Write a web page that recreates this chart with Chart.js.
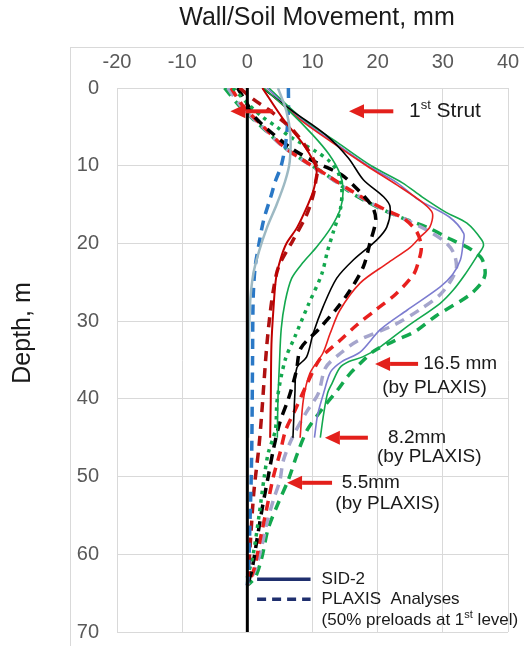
<!DOCTYPE html>
<html>
<head>
<meta charset="utf-8">
<script src="https://cdn.jsdelivr.net/npm/chart.js@4.4.1/dist/chart.umd.min.js"></script>
<style>
  html, body { margin: 0; padding: 0; background: #fff; }
  #wrap { position: relative; width: 524px; height: 646px; }
</style>
</head>
<body>
<div id="wrap"><canvas id="wallChart" width="524" height="646"></canvas></div>
<script>
// axes
const moveTicks = [-20, -10, 0, 10, 20, 30, 40];
const depthTicks = [0, 10, 20, 30, 40, 50, 60, 70];

// zero reference line
const zeroDepth = [0, 70];
const zeroMm = [0, 0];

// SID-2 measured, depth (m) / movement (mm)
const sid1Depth = [0, 3, 6, 9.5, 12, 15, 18, 21, 24, 28, 35, 45];
const sid1Mm = [4.7, 6, 6.6, 6.5, 5.8, 4.5, 3, 1.8, 0.9, 0.4, 0.2, 0.1];

const sid2Depth = [0, 4, 7.5, 10.5, 13, 15, 18, 20, 22, 24.5, 28.5, 33, 40, 45];
const sid2Mm = [2.3, 5.5, 8.8, 10.6, 10.2, 9.3, 7.6, 6, 5.1, 4.4, 4, 3.7, 3.6, 3.5];

const sid3Depth = [0, 3, 6, 8.5, 11, 13, 15.5, 18, 20.5, 22.5, 24.5, 27.5, 31, 36, 40, 45];
const sid3Mm = [2.5, 6.5, 10, 12.5, 14.2, 14.7, 14.3, 12.8, 10.6, 8.5, 6.8, 5.8, 5.2, 4.9, 4.7, 4.6];

const sid4Depth = [0, 3, 6, 9, 11.8, 14, 15.3, 17.9, 19.6, 22.1, 24.5, 28.2, 31.6, 34.6, 36, 39.3, 45];
const sid4Mm = [2.3, 7, 12, 15.5, 17.8, 20.9, 21.9, 21.4, 19.8, 16.3, 13.7, 11.6, 10.1, 9.1, 7.6, 7.3, 7];

const sid5Depth = [0, 4, 7, 10, 12.5, 14.8, 16.1, 17.9, 19.2, 20.5, 22.6, 25.1, 28.6, 31.6, 34.1, 36.7, 40.1, 45];
const sid5Mm = [2.5, 8, 13, 18.3, 23, 27, 28.4, 28, 26.5, 25, 21.4, 17.3, 14.2, 12.7, 11.6, 9.6, 8.6, 8.1];

const sid6Depth = [0, 4, 7, 10, 12.2, 14.4, 16.6, 18.7, 20, 22.1, 24, 25.6, 28.6, 31.1, 34, 35.2, 36.5, 39, 42, 45];
const sid6Mm = [3, 8.2, 13.3, 18.5, 23, 26.3, 31, 33.2, 33.1, 32.7, 31.5, 29.6, 24.5, 20.4, 17.3, 14.5, 12.8, 11.8, 10.8, 10.3];

const sid7Depth = [0, 4, 7, 10, 12.2, 14, 16, 17.4, 19.6, 20.4, 21.7, 24, 26, 27.7, 30.7, 33.3, 34.6, 35.2, 36, 38, 39.3, 42, 45];
const sid7Mm = [3.3, 8.5, 13.8, 19, 23.8, 26.8, 30.5, 33.7, 36, 36.2, 35.2, 33.4, 31.6, 29.6, 24.5, 20.4, 17.7, 15.6, 14.2, 13, 12.3, 11.7, 11.2];

// PLAXIS analyses
const fem1Depth = [0, 3, 7, 10, 12, 14, 17, 20, 23, 27, 35, 45, 50, 56, 62, 64];
const fem1Mm = [6.3, 6.3, 5.9, 5.2, 4.3, 3.6, 2.5, 1.8, 1.2, 0.9, 0.8, 0.7, 0.6, 0.4, 0.2, 0];

const fem2Depth = [0, 1.5, 2.8, 4.3, 5.7, 7.7, 10.3, 12, 13.8, 16.3, 19.6, 23, 26, 29, 33, 38.5, 42, 46, 52, 58, 62, 64];
const fem2Mm = [-1.2, 1, 3.3, 5.5, 7.3, 9.1, 10.7, 10.5, 10.1, 9.1, 7, 4.8, 4, 3.5, 3, 2.5, 2.2, 1.8, 1, 0.5, 0.2, 0];

const fem3Depth = [0, 2.2, 3.7, 5, 6.5, 8.2, 9.5, 11, 13, 15.5, 18.5, 21, 24, 28, 32, 35, 40, 44, 47, 50, 55, 60, 63];
const fem3Mm = [-2.2, 0.3, 2.3, 4.5, 7, 10.6, 12.7, 14, 14.5, 14.3, 13.2, 12.3, 11.4, 9.3, 7.3, 5.8, 4.6, 4.3, 3.2, 2.6, 1.8, 0.9, 0];

const fem4Depth = [0, 2.8, 3.8, 5.6, 7.9, 9.6, 11.2, 13.3, 15.3, 17, 20, 23, 26, 28.5, 31, 33.5, 36.5, 40, 43, 46.5, 50, 54, 58, 62, 64];
const fem4Mm = [-1.5, 0.5, 1.2, 3.5, 7, 10.6, 14.5, 17.2, 19.2, 19.7, 18.8, 17.8, 15.8, 13.6, 11, 8.2, 7.5, 6.3, 5, 4, 3.2, 2.3, 1.5, 0.7, 0];

const fem5Depth = [0, 2.5, 5, 7.5, 9.3, 11.2, 13, 14.5, 15.8, 16.8, 18.5, 20.5, 22.5, 24, 26.5, 28.5, 30.5, 32.5, 34.8, 38, 41.5, 44, 47, 50, 54, 58, 62, 64];
const fem5Mm = [-2.5, -0.5, 2.5, 5.5, 8.6, 12.2, 15.5, 18.5, 21.5, 24, 26, 26.7, 26.2, 25.5, 22.8, 19.8, 16.8, 14.2, 11.2, 9.2, 7.3, 5.9, 5, 4, 3, 2, 1, 0];

const fem6Depth = [0, 2.5, 5, 7.5, 9.3, 11.2, 13, 14.5, 15.8, 17, 18.5, 20, 21.5, 23.5, 26.4, 28.5, 30.5, 32.5, 34, 36, 39.3, 41.8, 45, 48, 50.5, 53, 56, 59, 62, 64];
const fem6Mm = [-3, -0.8, 2.3, 5.4, 8.5, 12, 15.3, 18.3, 21.3, 24.5, 28, 30.6, 31.8, 32, 29.8, 26.5, 22.5, 17, 14.5, 12, 10.9, 9, 6.9, 5.5, 5, 4, 3, 2.2, 1.2, 0];

const fem7Depth = [0, 2.5, 5, 7.5, 9.3, 11.2, 13.4, 15.3, 16.8, 18, 19.3, 20.8, 22, 23.8, 25, 26.7, 29.3, 31.3, 32.6, 33.8, 35.3, 37, 38.7, 41.4, 44, 47, 50.4, 53.5, 56.7, 60.5, 63, 64];
const fem7Mm = [-3.5, -1, 2.2, 5.5, 8.6, 12.2, 15.8, 19.9, 24, 27.8, 30.8, 34.4, 36, 36.5, 36, 34, 29, 25.8, 22.4, 19.5, 17.5, 15.5, 14, 11.4, 9.2, 7.7, 6.3, 4.7, 3.2, 2.2, 1.2, 0];

function pts(depth, mm) {
  return depth.map((d, i) => ({ x: mm[i], y: d }));
}

var dash = [10, 7];
var dots = [3.5, 5];

function line(data, color, width, dashPattern) {
  return {
    data: data,
    showLine: true,
    borderColor: color,
    borderWidth: width,
    borderDash: dashPattern || [],
    pointRadius: 0,
    pointHoverRadius: 0,
    tension: 0.3,
    fill: false
  };
}

var datasets = [
  line(pts(zeroDepth, zeroMm), "#000000", 3),
  line(pts(sid1Depth, sid1Mm), "#9db9c3", 2.5),
  line(pts(sid2Depth, sid2Mm), "#c00000", 2),
  line(pts(sid3Depth, sid3Mm), "#13a84e", 1.6),
  line(pts(sid4Depth, sid4Mm), "#000000", 1.6),
  line(pts(sid5Depth, sid5Mm), "#e8201e", 1.6),
  line(pts(sid6Depth, sid6Mm), "#7c7cd0", 1.6),
  line(pts(sid7Depth, sid7Mm), "#13a84e", 1.6),
  line(pts(fem1Depth, fem1Mm), "#2a78c6", 3.5, dash),
  line(pts(fem2Depth, fem2Mm), "#b01010", 3.5, dash),
  line(pts(fem3Depth, fem3Mm), "#13a84e", 3.5, dots),
  line(pts(fem4Depth, fem4Mm), "#000000", 3.5, dash),
  line(pts(fem5Depth, fem5Mm), "#e8201e", 3.5, dash),
  line(pts(fem6Depth, fem6Mm), "#a5a5cc", 3.5, dash),
  line(pts(fem7Depth, fem7Mm), "#13a84e", 3.5, dash)
];

// annotations, in data units (mm, m)
var arrows = [
  { from: [3.9, 3], to: [-2.6, 3] },
  { from: [22.4, 3], to: [15.6, 3] },
  { from: [26.2, 35.5], to: [19.6, 35.5] },
  { from: [18.5, 45], to: [11.9, 45] },
  { from: [13, 50.8], to: [6.1, 50.8] }
];
var notes = [
  { x: 24.8, y: 3, size: 21, parts: [["1", 0], ["st", 1], [" Strut", 0]] },
  { x: 27, y: 35.5, size: 19, parts: [["16.5 mm", 0]] },
  { x: 20.7, y: 38.6, size: 19, parts: [["(by PLAXIS)", 0]] },
  { x: 21.6, y: 45, size: 19, parts: [["8.2mm", 0]] },
  { x: 19.9, y: 47.5, size: 19, parts: [["(by PLAXIS)", 0]] },
  { x: 14.5, y: 50.8, size: 19, parts: [["5.5mm", 0]] },
  { x: 13.5, y: 53.5, size: 19, parts: [["(by PLAXIS)", 0]] },
  { x: 11.4, y: 63.2, size: 17, parts: [["SID-2", 0]] },
  { x: 11.4, y: 65.8, size: 17, parts: [["PLAXIS  Analyses", 0]] },
  { x: 11.4, y: 68.5, size: 17, parts: [["(50% preloads at 1", 0], ["st", 1], [" level)", 0]] }
];

var FONT = "'Liberation Sans', Arial, sans-serif";

function drawArrow(ctx, x1, y1, x2, y2) {
  var ang = Math.atan2(y2 - y1, x2 - x1);
  var hl = 15, hw = 7;
  var bx = x2 - hl * Math.cos(ang), by = y2 - hl * Math.sin(ang);
  ctx.strokeStyle = "#e3201b";
  ctx.fillStyle = "#e3201b";
  ctx.lineWidth = 4;
  ctx.setLineDash([]);
  ctx.beginPath();
  ctx.moveTo(x1, y1);
  ctx.lineTo(bx, by);
  ctx.stroke();
  ctx.beginPath();
  ctx.moveTo(x2, y2);
  ctx.lineTo(bx + hw * Math.sin(ang), by - hw * Math.cos(ang));
  ctx.lineTo(bx - hw * Math.sin(ang), by + hw * Math.cos(ang));
  ctx.closePath();
  ctx.fill();
}

function drawRich(ctx, x, y, parts, size) {
  ctx.textAlign = "left";
  ctx.textBaseline = "middle";
  ctx.fillStyle = "#1a1a1a";
  parts.forEach(function(p) {
    if (p[1]) {
      ctx.font = Math.round(size * 0.62) + "px " + FONT;
      ctx.fillText(p[0], x, y - size * 0.3);
    } else {
      ctx.font = size + "px " + FONT;
      ctx.fillText(p[0], x, y);
    }
    x += ctx.measureText(p[0]).width;
  });
}

var overlay = {
  id: "overlay",
  beforeDraw: function(chart) {
    var ctx = chart.ctx;
    ctx.save();
    ctx.fillStyle = "#ffffff";
    ctx.fillRect(0, 0, chart.width, chart.height);
    ctx.strokeStyle = "#d9d9d9";
    ctx.lineWidth = 1;
    ctx.strokeRect(70.5, 47.5, 600, 700);
    ctx.restore();
  },
  afterDraw: function(chart) {
    var ctx = chart.ctx;
    var sx = chart.scales.x, sy = chart.scales.y;
    ctx.save();

    // titles
    ctx.fillStyle = "#1a1a1a";
    ctx.font = "25px " + FONT;
    ctx.textAlign = "center";
    ctx.textBaseline = "middle";
    ctx.fillText("Wall/Soil Movement, mm", 317, 18);
    ctx.save();
    ctx.translate(23, 333);
    ctx.rotate(-Math.PI / 2);
    ctx.fillText("Depth, m", 0, 0);
    ctx.restore();

    arrows.forEach(function(a) {
      drawArrow(ctx, sx.getPixelForValue(a.from[0]), sy.getPixelForValue(a.from[1]),
        sx.getPixelForValue(a.to[0]), sy.getPixelForValue(a.to[1]));
    });

    notes.forEach(function(n) {
      drawRich(ctx, sx.getPixelForValue(n.x), sy.getPixelForValue(n.y), n.parts, n.size);
    });

    // legend keys
    var lx1 = sx.getPixelForValue(1.5), lx2 = sx.getPixelForValue(9.7);
    ctx.strokeStyle = "#1f2f6e";
    ctx.lineWidth = 3.5;
    ctx.beginPath();
    ctx.moveTo(lx1, sy.getPixelForValue(63.2));
    ctx.lineTo(lx2, sy.getPixelForValue(63.2));
    ctx.stroke();
    ctx.setLineDash([9, 6]);
    ctx.beginPath();
    ctx.moveTo(lx1, sy.getPixelForValue(65.8));
    ctx.lineTo(lx2, sy.getPixelForValue(65.8));
    ctx.stroke();

    ctx.restore();
  }
};

var ctx = document.getElementById("wallChart").getContext("2d");

var wallChart = new Chart(ctx, {
  type: "scatter",
  data: { datasets: datasets },
  options: {
    responsive: false,
    animation: false,
    devicePixelRatio: 1,
    layout: { padding: { left: 0, top: 0, right: 16, bottom: 14 } },
    plugins: {
      legend: { display: false },
      tooltip: { enabled: false }
    },
    scales: {
      x: {
        type: "linear",
        position: "top",
        min: moveTicks[0],
        max: moveTicks[moveTicks.length - 1],
        afterBuildTicks: function(s) { s.ticks = moveTicks.map(v => ({ value: v })); },
        afterFit: function(s) {
          s.height = 88;
          s.paddingLeft = 0;
          s.paddingRight = 0;
        },
        ticks: { color: "#595959", padding: 14, font: { family: FONT, size: 20 } },
        grid: { color: "#d9d9d9", drawTicks: false },
        border: { color: "#d9d9d9" }
      },
      y: {
        type: "linear",
        reverse: true,
        min: depthTicks[0],
        max: depthTicks[depthTicks.length - 1],
        afterBuildTicks: function(s) { s.ticks = depthTicks.map(v => ({ value: v })); },
        afterFit: function(s) {
          s.width = 117;
          s.paddingTop = 0;
          s.paddingBottom = 0;
        },
        ticks: { color: "#595959", padding: 18, font: { family: FONT, size: 20 } },
        grid: { color: "#d9d9d9", drawTicks: false },
        border: { color: "#d9d9d9" }
      }
    }
  },
  plugins: [overlay]
});
</script>
</body>
</html>
